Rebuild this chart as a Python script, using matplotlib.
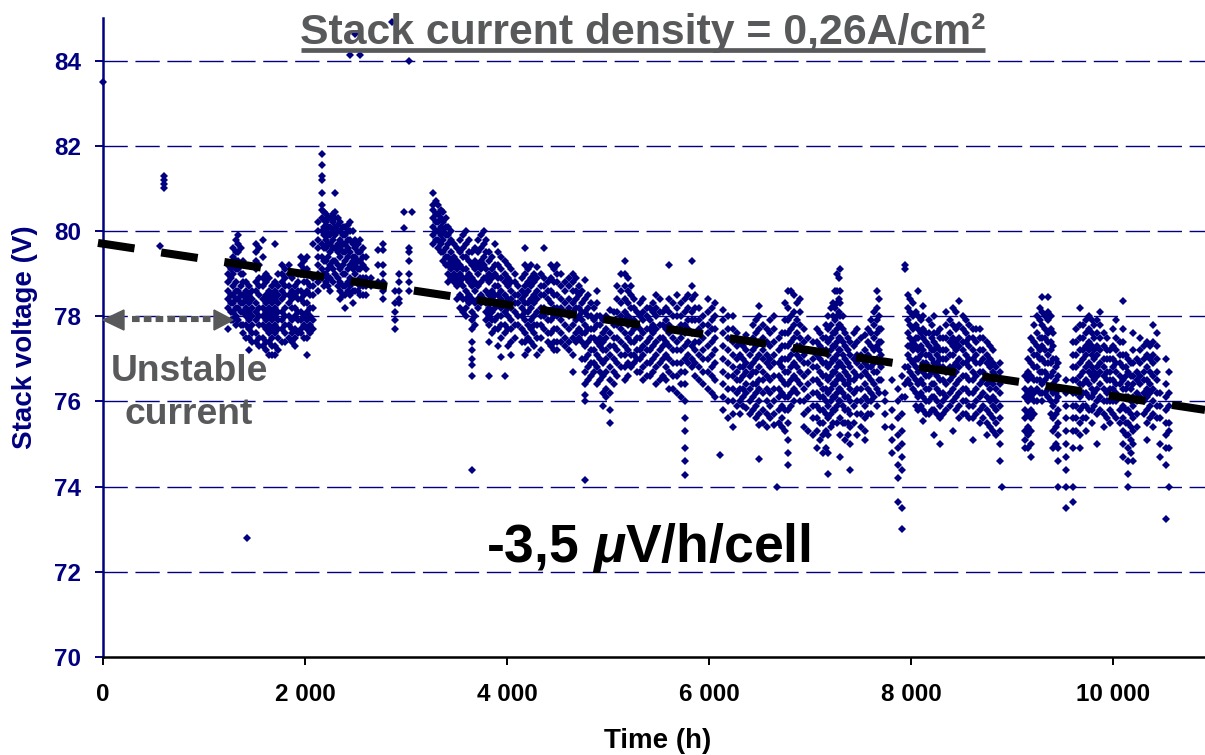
import matplotlib
matplotlib.use("Agg")
import matplotlib.pyplot as plt
from matplotlib.lines import Line2D
from matplotlib.patches import Polygon

W, H = 1205, 755
NAVY = "#000080"
GREY = "#58595B"

plt.rcParams["font.family"] = ["Liberation Sans", "DejaVu Sans"]
plt.rcParams["font.weight"] = "bold"
plt.rcParams["lines.scale_dashes"] = False
plt.rcParams["mathtext.fontset"] = "custom"
plt.rcParams["mathtext.bfit"] = "Liberation Sans:italic:bold"

# values, one voltage list per time column
t_start = [0, 560, 600, 1430]
v_start = [[83.5], [79.65], [81.3, 81.2, 81.1, 81.0], [72.8]]

t_a = [1240, 1290, 1340, 1390, 1450, 1510, 1580, 1640, 1700, 1770, 1840, 1900, 1960, 2020, 2080, 2130, 2170, 2210, 2250, 2300, 2350, 2400, 2450, 2500, 2545, 2600, 2650, 2720, 2770, 2860, 2890, 2930, 2980, 3030, 3060]
v_a = [
    [79.2, 79.0, 78.8, 78.6, 78.4, 78.2, 77.7],
    [79.6, 79.4, 79.2, 79.0, 78.7, 78.5, 78.3, 78.1, 77.9],
    [79.9, 79.7, 79.5, 79.3, 79.1, 78.6, 78.4, 78.2, 77.9],
    [79.3, 79.0, 78.8, 78.5, 78.3, 78.1, 77.8, 77.6],
    [78.7, 78.5, 78.3, 78.1, 77.9, 77.7, 77.5, 77.2],
    [79.7, 79.5, 79.3, 79.1, 78.8, 78.6, 78.3, 78.1, 77.9, 77.6, 77.4],
    [79.8, 79.4, 78.9, 78.7, 78.4, 78.2, 78.0, 77.8, 77.5, 77.3],
    [78.9, 78.6, 78.4, 78.2, 78.0, 77.8, 77.6, 77.4, 77.1],
    [79.7, 78.8, 78.6, 78.4, 78.2, 78.0, 77.8, 77.6, 77.3, 77.1],
    [79.2, 79.0, 78.8, 78.6, 78.4, 78.1, 77.9, 77.7, 77.4],
    [79.2, 79.0, 78.7, 78.5, 78.3, 78.0, 77.8, 77.5],
    [78.7, 78.5, 78.2, 78.0, 77.7, 77.5, 77.3],
    [79.4, 79.2, 79.0, 78.6, 78.4, 78.1, 77.9, 77.7, 77.6],
    [79.4, 79.1, 78.8, 78.6, 78.3, 78.1, 77.9, 77.7, 77.5, 77.1],
    [79.7, 78.9, 78.7, 78.5, 78.2, 77.9, 77.7],
    [80.2, 80.0, 79.8, 79.6, 79.4, 79.2, 79.0, 78.8, 78.6],
    [81.8, 81.55, 81.3, 81.2, 80.9, 80.6, 80.5, 80.3, 80.0, 79.7, 79.4, 79.1, 78.9],
    [80.4, 80.2, 80.0, 79.8, 79.6, 79.3, 79.0, 78.8],
    [80.3, 80.1, 79.9, 79.7, 79.5, 79.2, 78.9, 78.6],
    [80.9, 80.45, 80.3, 80.1, 79.9, 79.6, 79.3, 79.0],
    [80.2, 80.0, 79.8, 79.6, 79.4, 79.1, 78.8, 78.6, 78.4],
    [80.1, 79.9, 79.7, 79.5, 79.3, 79.0, 78.7, 78.5, 78.2],
    [84.14, 80.2, 80.0, 79.8, 79.5, 79.2, 78.9, 78.7, 78.5],
    [84.63, 79.8, 79.6, 79.4, 79.2, 79.0, 78.8, 78.6],
    [84.14, 79.8, 79.5, 79.3, 79.1, 78.9, 78.7, 78.5],
    [79.4, 79.1, 78.9, 78.7, 78.5],
    [78.9, 78.7],
    [79.55, 79.2, 78.8],
    [79.7, 79.55, 79.2, 79.0, 78.8, 78.6, 78.4],
    [84.9],
    [78.6, 78.3, 78.1, 77.9, 77.7],
    [79.0, 78.8, 78.6, 78.4, 78.3],
    [80.44, 80.07],
    [84.0, 79.6, 79.5, 79.3, 79.0, 78.8, 78.6],
    [80.44],
]

t_b = [3270, 3320, 3370, 3420, 3480, 3530, 3590, 3650, 3710, 3770, 3820, 3880, 3940, 3980, 4040, 4110, 4180, 4240, 4300, 4370, 4440, 4500, 4570, 4650, 4710, 4770, 4830, 4890, 4950, 5020, 5090, 5170, 5230, 5290, 5350, 5420, 5480, 5540, 5600, 5680, 5760, 5830, 5900, 5990, 6060, 6110, 6140, 6240, 6310, 6370, 6440, 6500]
v_b = [
    [80.9, 80.6, 80.5, 80.3, 80.1, 79.9, 79.7],
    [80.6, 80.4, 80.2, 80.0, 79.8, 79.6],
    [80.45, 80.2, 80.0, 79.8, 79.5, 79.3],
    [80.1, 79.9, 79.7, 79.4, 79.2, 79.0, 78.8],
    [79.7, 79.4, 79.2, 79.0, 78.8],
    [79.8, 79.5, 79.2, 79.0, 78.8, 78.5, 78.2],
    [80.0, 79.7, 79.4, 79.1, 78.9, 78.6, 78.4, 78.2, 78.0],
    [79.5, 79.2, 78.9, 78.7, 78.4, 78.1, 77.9, 77.7, 77.4, 77.2, 77.0, 76.85, 76.6, 74.4],
    [79.8, 79.5, 79.2, 79.0, 78.7, 78.4, 78.2],
    [80.0, 79.7, 79.4, 79.2, 78.9, 78.4],
    [79.5, 79.3, 79.0, 78.8, 78.5, 78.2, 78.0, 77.8, 77.4, 76.6],
    [79.7, 79.2, 79.0, 78.7, 78.5, 78.2, 77.9, 77.7],
    [79.4, 79.1, 78.9, 78.6, 78.4, 78.2, 78.0, 77.8, 77.5, 77.05],
    [79.3, 79.0, 78.8, 78.5, 78.3, 78.1, 77.8, 77.6, 76.6],
    [79.1, 78.8, 78.6, 78.4, 78.2, 77.9, 77.7, 77.4, 77.1],
    [78.7, 78.5, 78.3, 78.0, 77.8],
    [79.6, 79.2, 79.0, 78.7, 78.5, 78.3, 78.1, 77.9, 77.6, 77.4, 77.1],
    [79.2, 78.9, 78.7, 78.4, 78.2, 77.9, 77.7, 77.4],
    [79.15, 78.9, 78.6, 78.4, 78.1, 77.8, 77.5, 77.1],
    [79.6, 78.9, 78.7, 78.5, 78.2, 78.0, 77.7],
    [79.2, 78.9, 78.6, 78.3, 78.1, 77.9, 77.6, 77.3],
    [79.2, 79.0, 78.8, 78.5, 78.2, 78.0, 77.7, 77.4, 77.2],
    [78.8, 78.6, 78.3, 78.1, 77.8, 77.5, 77.3],
    [79.0, 78.8, 78.6, 78.3, 78.1, 77.8, 77.5, 77.1, 76.7],
    [78.7, 78.5, 78.2, 78.0, 77.7, 77.5],
    [78.85, 78.4, 78.1, 77.8, 77.6, 77.3, 77.0, 76.7, 76.4, 76.15, 76.0, 74.15],
    [78.3, 78.0, 77.7, 77.5, 77.2, 76.9, 76.6],
    [78.6, 78.3, 78.0, 77.8, 77.4, 77.1, 76.8, 76.4],
    [77.9, 77.6, 77.4, 77.2, 76.9, 76.6, 76.2, 75.9],
    [78.15, 77.9, 77.6, 77.3, 77.1, 76.8, 76.5, 76.2, 75.8, 75.5],
    [78.7, 78.4, 78.1, 77.8, 77.5, 77.2, 76.9, 76.6],
    [79.3, 79.0, 78.7, 78.4, 78.1, 77.9, 77.6, 77.3, 77.1, 76.8, 76.5],
    [78.7, 78.5, 78.2, 77.9, 77.6, 77.4, 77.1, 76.8],
    [78.1, 77.8, 77.5, 77.2, 77.0, 76.7],
    [78.4, 78.1, 77.9, 77.6, 77.3, 77.1, 76.8, 76.5],
    [78.2, 77.9, 77.7, 77.5, 77.2, 76.9, 76.6],
    [78.5, 78.2, 78.0, 77.7, 77.4, 77.1, 76.8, 76.4],
    [78.1, 77.8, 77.5, 77.3, 77.0, 76.6],
    [79.2, 78.4, 78.1, 77.8, 77.6, 77.3, 77.0, 76.7, 76.3],
    [78.5, 78.2, 78.0, 77.7, 77.4, 77.2, 76.9, 76.6, 76.2],
    [78.4, 78.1, 77.8, 77.6, 77.3, 77.0, 76.7, 76.4, 76.0, 75.6, 75.3, 74.9, 74.6, 74.27],
    [79.3, 78.7, 78.4, 78.1, 77.9, 77.6, 77.3, 77.0, 76.8],
    [78.2, 77.9, 77.7, 77.4, 77.1, 76.8, 76.5],
    [78.4, 78.1, 77.8, 77.6, 77.3, 77.0, 76.7, 76.3],
    [78.3, 78.0, 77.7, 77.5, 77.2, 76.9, 76.5, 76.1],
    [74.75],
    [78.15, 77.9, 77.6, 77.3, 77.0, 76.7, 76.4, 76.1, 75.8],
    [78.0, 77.7, 77.4, 77.1, 76.8, 76.6, 76.3, 76.0, 75.7, 75.4],
    [77.4, 77.1, 76.8, 76.5, 76.3, 76.0, 75.7],
    [77.55, 77.2, 76.9, 76.7, 76.4, 76.2, 75.85],
    [77.8, 77.5, 77.2, 76.9, 76.7, 76.4, 76.1, 75.8],
    [78.25, 78.0, 77.7, 77.4, 77.1, 76.8, 76.5, 76.3, 76.0, 75.7, 75.45, 74.65],
]

t_c = [6570, 6640, 6670, 6720, 6780, 6840, 6900, 6980, 7070, 7130, 7180, 7230, 7265, 7300, 7350, 7400, 7470, 7540, 7600, 7660, 7700, 7740, 7810, 7870, 7910, 7940, 7970, 8020, 8070, 8120, 8180, 8230, 8290, 8350, 8420, 8480, 8540, 8610, 8680, 8750, 8810, 8880, 8900]
v_c = [
    [77.7, 77.4, 77.1, 76.9, 76.6, 76.3, 76.0, 75.7, 75.4],
    [78.0, 77.7, 77.4, 77.1, 76.9, 76.6, 76.3, 76.0, 75.7, 75.45],
    [74.0],
    [77.6, 77.3, 77.0, 76.8, 76.5, 76.2, 75.9, 75.6, 75.4],
    [78.6, 78.2, 77.9, 77.6, 77.3, 77.0, 76.7, 76.4, 76.1, 75.8, 75.5, 75.1, 74.8, 74.5],
    [78.5, 78.1, 77.8, 77.5, 77.2, 76.9, 76.6, 76.3, 76.0],
    [78.4, 78.1, 77.8, 77.5, 77.3, 77.0, 76.7, 76.4, 76.0],
    [77.5, 77.2, 76.9, 76.7, 76.4, 76.1, 75.8, 75.3],
    [77.7, 77.4, 77.1, 76.8, 76.5, 76.2, 75.9, 75.6, 75.3, 74.9],
    [77.5, 77.2, 76.9, 76.6, 76.3, 76.1, 75.8, 75.5, 75.2, 74.8],
    [78.0, 77.7, 77.4, 77.1, 76.8, 76.5, 76.2, 75.9, 75.6, 75.2, 74.8, 74.3],
    [78.3, 78.0, 77.6, 77.3, 77.0, 76.7, 76.4, 76.1, 75.8, 75.5],
    [79.0, 78.6, 78.3, 78.0, 77.7, 77.4, 77.1, 76.8, 76.5, 76.2, 75.9, 75.5],
    [79.1, 78.6, 78.3, 78.0, 77.8, 77.5, 77.2, 76.9, 76.6, 76.3, 76.0, 75.6, 75.2, 74.7],
    [77.6, 77.3, 77.0, 76.7, 76.4, 76.1, 75.8, 75.5, 75.1],
    [77.4, 77.1, 76.8, 76.5, 76.3, 76.0, 75.7, 75.4, 75.0, 74.4],
    [77.7, 77.4, 77.1, 76.9, 76.6, 76.3, 76.0, 75.7, 75.2],
    [77.55, 77.2, 76.9, 76.7, 76.4, 76.1, 75.9, 75.6, 75.3, 75.1],
    [77.9, 77.6, 77.3, 77.0, 76.8, 76.5, 76.2, 76.0, 75.7],
    [78.6, 78.2, 77.9, 77.6, 77.3, 77.0, 76.7, 76.3, 75.9],
    [77.7, 77.4, 77.1, 76.8, 76.5],
    [76.2, 76.0, 75.7, 75.4],
    [76.5, 75.8, 75.4, 75.1, 74.8],
    [76.3, 76.0, 75.6, 75.2, 74.9, 74.5, 74.2, 73.65],
    [76.6, 76.1, 75.7, 75.3, 75.0, 74.7, 74.4, 73.5, 73.0],
    [79.2, 79.1, 76.8, 76.4, 76.1],
    [78.5, 78.2, 77.9, 77.6, 77.3, 77.1, 76.8, 76.5],
    [78.3, 78.0, 77.7, 77.4, 77.2, 76.9, 76.6, 76.3],
    [78.6, 78.0, 77.7, 77.5, 77.2, 77.0, 76.7, 76.4, 76.1, 75.8],
    [78.25, 78.0, 77.7, 77.5, 77.2, 76.9, 76.7, 76.4, 76.1, 75.8, 75.55],
    [77.9, 77.6, 77.3, 77.1, 76.8, 76.6, 76.3, 76.0, 75.7],
    [78.0, 77.6, 77.4, 77.2, 76.9, 76.7, 76.4, 76.1, 75.8, 75.2],
    [77.7, 77.5, 77.2, 77.0, 76.8, 76.5, 76.2, 75.9, 75.6, 75.0],
    [78.1, 77.8, 77.5, 77.2, 77.0, 76.7, 76.4, 76.1, 75.8],
    [78.2, 77.8, 77.5, 77.3, 77.1, 76.8, 76.6, 76.3, 76.0, 75.3],
    [78.35, 77.8, 77.5, 77.3, 77.0, 76.8, 76.5, 76.2, 75.9, 75.6],
    [77.9, 77.6, 77.4, 77.1, 76.9, 76.6, 76.3, 76.0, 75.7],
    [77.7, 77.5, 77.2, 77.0, 76.7, 76.5, 76.2, 75.9, 75.6, 75.1],
    [77.7, 77.5, 77.2, 76.9, 76.7, 76.4, 76.1, 75.8, 75.5],
    [77.4, 77.1, 76.9, 76.6, 76.4, 76.1, 75.8, 75.5, 75.2],
    [77.2, 76.9, 76.7, 76.4, 76.1, 75.9, 75.6, 75.3],
    [76.9, 76.7, 76.4, 76.2, 75.9, 75.6, 75.3, 75.0, 74.6],
    [74.0],
]

t_d = [9130, 9190, 9250, 9300, 9360, 9410, 9460, 9530, 9600, 9670, 9730, 9790, 9840, 9910, 9970, 10030, 10100, 10150, 10200, 10270, 10340, 10400, 10470, 10525, 10550]
v_d = [
    [76.6, 76.3, 76.1, 75.8, 75.6, 75.3, 75.1, 74.9],
    [77.5, 77.2, 76.9, 76.6, 76.3, 76.1, 75.8, 75.6, 75.3, 75.0, 74.7],
    [78.0, 77.6, 77.3, 77.1, 76.8, 76.5, 76.3, 76.0],
    [78.45, 78.1, 77.8, 77.5, 77.3, 77.0, 76.7, 76.4, 76.2, 76.0],
    [78.45, 78.1, 77.9, 77.6, 77.4, 77.1, 76.9, 76.6, 76.3, 76.1],
    [77.6, 77.3, 77.0, 76.7, 76.4, 76.2, 75.9, 75.6, 75.3, 74.9],
    [76.9, 76.6, 76.3, 76.1, 75.8, 75.5, 75.2, 74.9, 74.6, 74.0],
    [76.5, 76.2, 75.9, 75.6, 75.3, 75.0, 74.7, 74.4, 74.0, 73.5],
    [77.4, 77.1, 76.8, 76.5, 76.2, 75.9, 75.6, 75.3, 74.9, 74.0, 73.65],
    [78.2, 77.8, 77.5, 77.2, 76.9, 76.6, 76.4, 76.1, 75.8, 75.5, 75.2, 74.9],
    [77.9, 77.6, 77.3, 77.1, 76.8, 76.5, 76.2, 75.9, 75.6, 75.3],
    [77.9, 77.6, 77.3, 77.1, 76.8, 76.6, 76.3, 76.1, 75.8, 75.5],
    [77.9, 77.6, 77.3, 77.1, 76.8, 76.6, 76.3, 76.0, 75.7, 75.0],
    [77.6, 77.3, 77.0, 76.8, 76.6, 76.3, 76.0, 75.7, 75.4],
    [77.2, 77.0, 76.7, 76.5, 76.3, 76.0, 75.8, 75.5],
    [77.9, 77.5, 77.2, 76.9, 76.7, 76.4, 76.2, 76.0, 75.6],
    [78.35, 77.7, 77.4, 77.1, 76.8, 76.5, 76.3, 75.9, 75.6, 75.3, 75.0, 74.7],
    [77.0, 76.7, 76.4, 76.1, 75.8, 75.5, 75.2, 74.9, 74.6, 74.3, 74.0],
    [77.6, 77.2, 76.9, 76.6, 76.4, 76.1, 75.9, 75.6, 75.3, 75.0, 74.6],
    [77.5, 77.2, 76.9, 76.6, 76.4, 76.1],
    [77.4, 77.1, 76.8, 76.5, 76.3, 76.1, 75.8, 75.5, 75.1],
    [77.8, 77.4, 77.1, 76.9, 76.6, 76.3, 76.0, 75.7, 75.4],
    [76.2, 75.9, 75.6, 75.0, 74.7],
    [77.0, 76.4, 76.1, 75.8, 75.5, 75.2, 74.9, 74.5, 73.25],
    [76.7, 76.2, 75.9, 75.5, 75.3, 74.9, 74.0],
]

# points between the columns above, where the cloud is solid
t_e = [1265, 1315, 1365, 1420, 1480, 1545, 1610, 1670, 1735, 1805, 1870, 1930, 1990, 2050, 2190, 2230, 2275, 2325, 2375, 2425, 2475, 2525, 2570, 3295, 3345, 3395, 3450, 3505, 3560, 3620, 3680, 3740, 3795, 3850, 3910, 4010, 4075, 4145, 4210, 4270, 4335, 4405, 4470, 4535, 4610, 4680, 4740, 4800, 4860, 4920, 4985, 5055, 5130, 5200, 5260, 5320, 5385, 5450, 5510, 5570, 5640, 5720, 5795, 5865, 5945, 6025, 6190, 6275, 6340, 6405, 6470, 6535, 6605, 6695, 6750, 6810, 6870, 6940, 7025, 7100, 7155, 7205, 7250, 7285, 7325, 7375, 7435, 7505, 7570, 7630, 7680, 7990, 8045, 8095, 8150, 8205, 8260, 8320, 8385, 8450, 8510, 8575, 8645, 8715, 8780, 8845, 9160, 9220, 9275, 9330, 9385, 9435, 9635, 9700, 9760, 9815, 9875, 9940, 10000, 10065, 10125, 10175, 10235, 10305, 10370, 10435]
v_e = [
    [79.1, 78.9, 78.5, 78.3, 78.1, 77.9],
    [79.8, 79.5, 79.3, 79.1, 78.8, 78.6, 78.4, 78.2, 78.0, 77.8],
    [79.6, 79.2, 79.0, 78.7, 78.5, 78.3, 78.1, 77.8],
    [78.8, 78.6, 78.4, 78.2, 78.0, 77.8, 77.5],
    [78.6, 78.4, 78.2, 78.0, 77.8, 77.6, 77.4],
    [79.6, 79.2, 78.9, 78.7, 78.5, 78.2, 78.0, 77.8, 77.5, 77.3],
    [79.0, 78.8, 78.5, 78.3, 78.1, 77.9, 77.7, 77.4, 77.2],
    [78.7, 78.5, 78.3, 78.1, 77.9, 77.7, 77.5, 77.3, 77.1],
    [79.0, 78.7, 78.5, 78.3, 78.1, 77.9, 77.7, 77.5, 77.2],
    [79.1, 78.9, 78.7, 78.5, 78.2, 78.0, 77.8, 77.6, 77.4],
    [78.9, 78.6, 78.4, 78.2, 77.9, 77.7, 77.6, 77.4],
    [79.0, 78.8, 78.6, 78.4, 78.1, 77.9, 77.6],
    [79.3, 79.1, 78.8, 78.5, 78.3, 78.0, 77.8, 77.5],
    [79.0, 78.7, 78.5, 78.2, 78.0, 77.8, 77.6],
    [80.45, 80.25, 80.1, 79.9, 79.6, 79.3, 79.0, 78.7],
    [80.3, 80.1, 79.9, 79.7, 79.4, 79.1, 78.9, 78.7],
    [80.4, 80.2, 80.0, 79.8, 79.6, 79.3, 79.1, 78.8],
    [80.3, 80.15, 80.0, 79.7, 79.5, 79.2, 78.9, 78.7],
    [80.1, 79.9, 79.7, 79.5, 79.2, 79.0, 78.7, 78.5],
    [80.15, 80.0, 79.8, 79.6, 79.4, 79.1, 78.8, 78.6],
    [80.0, 79.7, 79.4, 79.3, 79.1, 78.8, 78.6, 78.3],
    [79.7, 79.5, 79.3, 79.1, 78.8, 78.6],
    [79.6, 79.4, 79.2, 78.9, 78.7, 78.5],
    [80.7, 80.4, 80.2, 80.0, 79.8],
    [80.5, 80.3, 80.1, 79.9, 79.7, 79.5],
    [80.3, 80.1, 79.9, 79.6, 79.4, 79.2],
    [80.0, 79.8, 79.5, 79.3, 79.1, 78.9],
    [79.6, 79.3, 79.1, 78.9, 78.7, 78.4],
    [79.9, 79.6, 79.4, 79.1, 78.9, 78.7, 78.4, 78.1],
    [79.8, 79.5, 79.3, 79.0, 78.8, 78.5, 78.3],
    [79.6, 79.3, 79.1, 78.8, 78.6, 78.3, 78.0, 77.8],
    [79.9, 79.6, 79.3, 79.1, 78.8, 78.5, 78.3],
    [79.8, 79.5, 79.1, 78.9, 78.6, 78.3, 78.1, 77.9],
    [79.4, 79.1, 78.9, 78.6, 78.4, 78.1, 77.9, 77.6],
    [79.5, 79.2, 78.9, 78.7, 78.5, 78.3, 78.0, 77.7, 77.3],
    [79.2, 78.9, 78.7, 78.4, 78.2, 78.0, 77.7, 77.3],
    [79.0, 78.8, 78.5, 78.3, 78.1, 77.8, 77.5],
    [78.9, 78.6, 78.4, 78.2, 78.0, 77.7, 77.4],
    [79.1, 78.8, 78.6, 78.3, 78.1, 77.8, 77.5, 77.2],
    [79.0, 78.8, 78.5, 78.3, 78.0, 77.8, 77.6, 77.3],
    [79.0, 78.7, 78.5, 78.2, 78.0, 77.8, 77.5, 77.2],
    [78.8, 78.6, 78.4, 78.1, 77.9, 77.6, 77.4],
    [79.1, 78.8, 78.5, 78.2, 78.0, 77.7, 77.4, 77.2],
    [79.0, 78.7, 78.4, 78.2, 77.9, 77.6, 77.4],
    [78.9, 78.7, 78.4, 78.2, 78.0, 77.7, 77.4, 77.2],
    [78.9, 78.6, 78.4, 78.2, 77.9, 77.6, 77.4],
    [78.6, 78.3, 78.1, 77.9, 77.6, 77.4, 77.0],
    [78.5, 78.2, 78.0, 77.7, 77.4, 77.1, 76.8, 76.5],
    [78.2, 77.9, 77.7, 77.5, 77.2, 76.9, 76.7],
    [78.0, 77.8, 77.5, 77.3, 77.0, 76.7, 76.5],
    [78.0, 77.7, 77.5, 77.2, 77.0, 76.7, 76.3, 76.1],
    [78.1, 77.8, 77.5, 77.3, 77.0, 76.7, 76.4],
    [79.0, 78.6, 78.3, 78.0, 77.7, 77.4, 77.1, 76.8],
    [78.9, 78.6, 78.3, 78.0, 77.8, 77.5, 77.2, 76.9, 76.6],
    [78.4, 78.2, 77.9, 77.7, 77.4, 77.1, 76.9],
    [78.3, 78.0, 77.7, 77.5, 77.2, 77.0, 76.7],
    [78.2, 78.0, 77.7, 77.4, 77.2, 76.9, 76.6],
    [78.3, 78.1, 77.8, 77.6, 77.3, 77.0, 76.7],
    [78.4, 78.1, 77.8, 77.5, 77.2, 76.9, 76.5],
    [78.2, 77.9, 77.7, 77.4, 77.1, 76.8, 76.5],
    [78.3, 78.0, 77.7, 77.5, 77.2, 76.9, 76.6, 76.3],
    [78.3, 78.0, 77.8, 77.5, 77.2, 76.9, 76.7, 76.4, 76.1],
    [78.5, 78.2, 77.9, 77.7, 77.4, 77.1, 76.9],
    [78.5, 78.2, 77.9, 77.6, 77.4, 77.2, 76.9, 76.6],
    [78.0, 77.8, 77.5, 77.2, 77.0, 76.7, 76.4],
    [78.2, 77.9, 77.7, 77.4, 77.1, 76.8, 76.6, 76.2],
    [78.0, 77.7, 77.5, 77.2, 76.9, 76.6, 76.3, 76.0, 75.6],
    [77.6, 77.3, 77.0, 76.7, 76.5, 76.2, 75.9],
    [77.3, 77.0, 76.8, 76.6, 76.3, 76.1, 75.9],
    [77.4, 77.1, 76.8, 76.6, 76.3, 76.0, 75.7],
    [77.9, 77.6, 77.3, 77.0, 76.7, 76.4, 76.2, 75.9, 75.6],
    [77.8, 77.5, 77.2, 77.0, 76.7, 76.5, 76.2, 75.8, 75.5],
    [77.9, 77.6, 77.3, 77.0, 76.8, 76.5, 76.2, 75.9, 75.6],
    [77.5, 77.2, 76.9, 76.6, 76.3, 76.1, 75.8, 75.5],
    [78.3, 77.9, 77.6, 77.3, 77.0, 76.7, 76.4, 76.1, 75.8, 75.3],
    [78.6, 78.0, 77.7, 77.4, 77.1, 76.8, 76.5, 76.2, 75.9],
    [78.3, 77.9, 77.6, 77.3, 77.1, 76.8, 76.5, 76.2],
    [77.7, 77.4, 77.1, 76.9, 76.6, 76.3, 76.0, 75.7, 75.4],
    [77.4, 77.0, 76.8, 76.5, 76.2, 75.9, 75.6, 75.2],
    [77.6, 77.3, 77.0, 76.7, 76.4, 76.1, 75.8, 75.5, 75.1],
    [77.8, 77.5, 77.2, 76.9, 76.6, 76.3, 76.0, 75.7, 75.3, 74.9],
    [78.2, 77.8, 77.5, 77.2, 76.9, 76.6, 76.3, 76.0, 75.7, 75.4],
    [78.6, 78.2, 77.9, 77.6, 77.3, 77.0, 76.7, 76.4, 76.1, 75.8],
    [78.9, 78.4, 78.1, 77.8, 77.5, 77.2, 76.9, 76.6, 76.3, 76.0],
    [78.0, 77.7, 77.4, 77.1, 76.8, 76.5, 76.2, 75.9, 75.5],
    [77.5, 77.2, 76.9, 76.6, 76.4, 76.1, 75.8, 75.5, 75.2],
    [77.6, 77.3, 77.0, 76.7, 76.5, 76.2, 75.9, 75.5],
    [77.5, 77.1, 76.8, 76.6, 76.3, 76.0, 75.7, 75.4],
    [77.7, 77.4, 77.1, 76.8, 76.6, 76.3, 76.0, 75.7],
    [78.1, 77.8, 77.5, 77.2, 76.9, 76.7, 76.4, 76.1],
    [78.4, 78.0, 77.7, 77.4, 77.2, 76.9, 76.5, 76.2],
    [78.4, 78.1, 77.8, 77.5, 77.3, 77.0, 76.7, 76.4],
    [78.1, 77.8, 77.5, 77.3, 77.0, 76.8, 76.5, 76.2, 75.9],
    [77.9, 77.6, 77.3, 77.1, 76.8, 76.5, 76.2, 75.9],
    [77.6, 77.4, 77.1, 76.9, 76.6, 76.3, 76.0, 75.7],
    [77.8, 77.5, 77.2, 77.0, 76.7, 76.4, 76.1, 75.8],
    [77.6, 77.3, 77.1, 76.9, 76.6, 76.3, 76.0, 75.7],
    [77.5, 77.2, 77.0, 76.8, 76.5, 76.2, 76.0, 75.7],
    [77.9, 77.6, 77.4, 77.1, 76.8, 76.5, 76.2, 75.9],
    [78.1, 77.7, 77.4, 77.2, 76.9, 76.7, 76.4, 76.1, 75.8],
    [78.0, 77.7, 77.4, 77.2, 76.9, 76.6, 76.3, 76.0, 75.7],
    [77.8, 77.5, 77.3, 77.0, 76.8, 76.5, 76.2, 75.9, 75.6],
    [77.7, 77.4, 77.1, 76.9, 76.6, 76.3, 76.0, 75.7],
    [77.5, 77.2, 77.0, 76.7, 76.5, 76.2, 75.9, 75.6],
    [77.3, 77.0, 76.8, 76.5, 76.3, 76.0, 75.7, 75.4],
    [76.8, 76.6, 76.3, 76.0, 75.8, 75.5, 75.2],
    [77.0, 76.7, 76.5, 76.2, 76.0, 75.7, 75.4, 75.2, 74.9],
    [77.8, 77.4, 77.1, 76.8, 76.5, 76.2, 76.0, 75.7],
    [78.2, 77.9, 77.5, 77.2, 77.0, 76.7, 76.5, 76.2],
    [78.0, 77.7, 77.5, 77.2, 76.9, 76.7, 76.5, 76.2],
    [78.0, 77.7, 77.4, 77.2, 76.9, 76.6, 76.3, 76.0, 75.7],
    [77.0, 76.8, 76.5, 76.2, 76.0, 75.7, 75.4, 75.0],
    [77.7, 77.4, 77.1, 76.8, 76.5, 76.2, 75.9, 75.6, 75.3],
    [77.8, 77.5, 77.2, 77.0, 76.7, 76.4, 76.2, 75.9, 75.6],
    [78.0, 77.7, 77.4, 77.2, 76.9, 76.7, 76.4, 76.1, 75.8],
    [77.8, 77.5, 77.2, 77.0, 76.7, 76.5, 76.2, 75.9],
    [78.1, 77.8, 77.5, 77.2, 76.9, 76.7, 76.4, 76.1, 75.8],
    [77.5, 77.2, 77.0, 76.7, 76.5, 76.2, 76.0, 75.6],
    [77.7, 77.3, 77.0, 76.8, 76.5, 76.3, 76.0, 75.7],
    [77.4, 77.1, 76.9, 76.6, 76.4, 76.1, 75.8, 75.5],
    [77.1, 76.8, 76.6, 76.3, 76.1, 75.8, 75.5, 75.2],
    [76.9, 76.6, 76.3, 76.0, 75.7, 75.4, 75.1, 74.8],
    [77.0, 76.7, 76.5, 76.2, 76.0, 75.7, 75.4],
    [77.3, 77.0, 76.7, 76.5, 76.2, 76.0, 75.7],
    [77.3, 77.0, 76.7, 76.4, 76.2, 75.9, 75.6],
    [77.6, 77.3, 77.0, 76.7, 76.5, 76.2, 75.9, 75.6],
]

times = []
volts = []
for ts, vs in [(t_start, v_start), (t_a, v_a), (t_b, v_b), (t_c, v_c), (t_d, v_d), (t_e, v_e)]:
    for t, col in zip(ts, vs):
        times += [t] * len(col)
        volts += col

trend_t = [-50, 10911]
trend_v = [79.72, 75.8]

y_ticks = [70, 72, 74, 76, 78, 80, 82, 84]
x_ticks = [0, 2000, 4000, 6000, 8000, 10000]
x_labels = ["0", "2 000", "4 000", "6 000", "8 000", "10 000"]


def fx(x):
    return x / W


def fy(y):
    return 1 - y / H


fig = plt.figure(figsize=(W / 100, H / 100), dpi=100)
ax = fig.add_axes([fx(103), fy(657), fx(W - 103), (657 - 18) / H])
ax.set_xlim(0, 10911)
ax.set_ylim(70, 85)

ax.plot(times, volts, ls="none", marker="D", ms=3.6, mew=0, color=NAVY, zorder=3, clip_on=False)
ax.plot(trend_t, trend_v, color="black", lw=5.8, dashes=(26.6, 19.4), dash_capstyle="butt", zorder=4, clip_on=False)

for s in ["top", "right"]:
    ax.spines[s].set_visible(False)
ax.spines["left"].set_color(NAVY)
ax.spines["left"].set_linewidth(1.8)
ax.spines["bottom"].set_color("black")
ax.spines["bottom"].set_linewidth(1.8)
ax.spines["bottom"].set_zorder(5)

ax.set_xticks(x_ticks, x_labels)
ax.set_yticks(y_ticks)
ax.tick_params(axis="y", colors=NAVY, length=5.8, width=1.4, pad=10, labelsize=17.5)
ax.tick_params(axis="x", colors="black", length=5.8, width=1.4, pad=13, labelsize=17.5)
for y in y_ticks[1:]:
    ax.axhline(y, color=NAVY, lw=1.0, ls=(0, (17.5, 5.5)), zorder=1)

fig.text(fx(658), fy(741), "Time (h)", ha="center", va="center", fontsize=20, color="black")
fig.text(fx(25), fy(337), "Stack voltage (V)", ha="center", va="center", rotation=90, fontsize=20, color=NAVY)

fig.text(fx(643), fy(44), "Stack current density = 0,26A/cm²", ha="center", va="baseline", fontsize=30.8, color=GREY)
fig.add_artist(Line2D([fx(301), fx(985)], [fy(49.5), fy(49.5)], color=GREY, lw=3.4, solid_capstyle="butt"))

fig.text(fx(189), fy(372), "Unstable", ha="center", va="center", fontsize=26.8, color=GREY, zorder=6)
fig.text(fx(189), fy(415), "current", ha="center", va="center", fontsize=26.8, color=GREY, zorder=6)

# double arrow over the unstable period
fig.add_artist(Line2D([fx(132), fx(212)], [fy(319.5), fy(319.5)], color=GREY, lw=4.4, dashes=(5.5, 3), dash_capstyle="butt"))
fig.add_artist(Polygon([(fx(103), fy(320)), (fx(124), fy(310)), (fx(124), fy(330))], closed=True, color=GREY, transform=fig.transFigure))
fig.add_artist(Polygon([(fx(233), fy(320)), (fx(214), fy(310)), (fx(214), fy(330))], closed=True, color=GREY, transform=fig.transFigure))

fig.text(fx(486), fy(562), r"-3,5 $\mathbfit{\mu}$V/h/cell", ha="left", va="baseline", fontsize=38.5, color="black", zorder=6)

fig.savefig("out.png", dpi=100)
